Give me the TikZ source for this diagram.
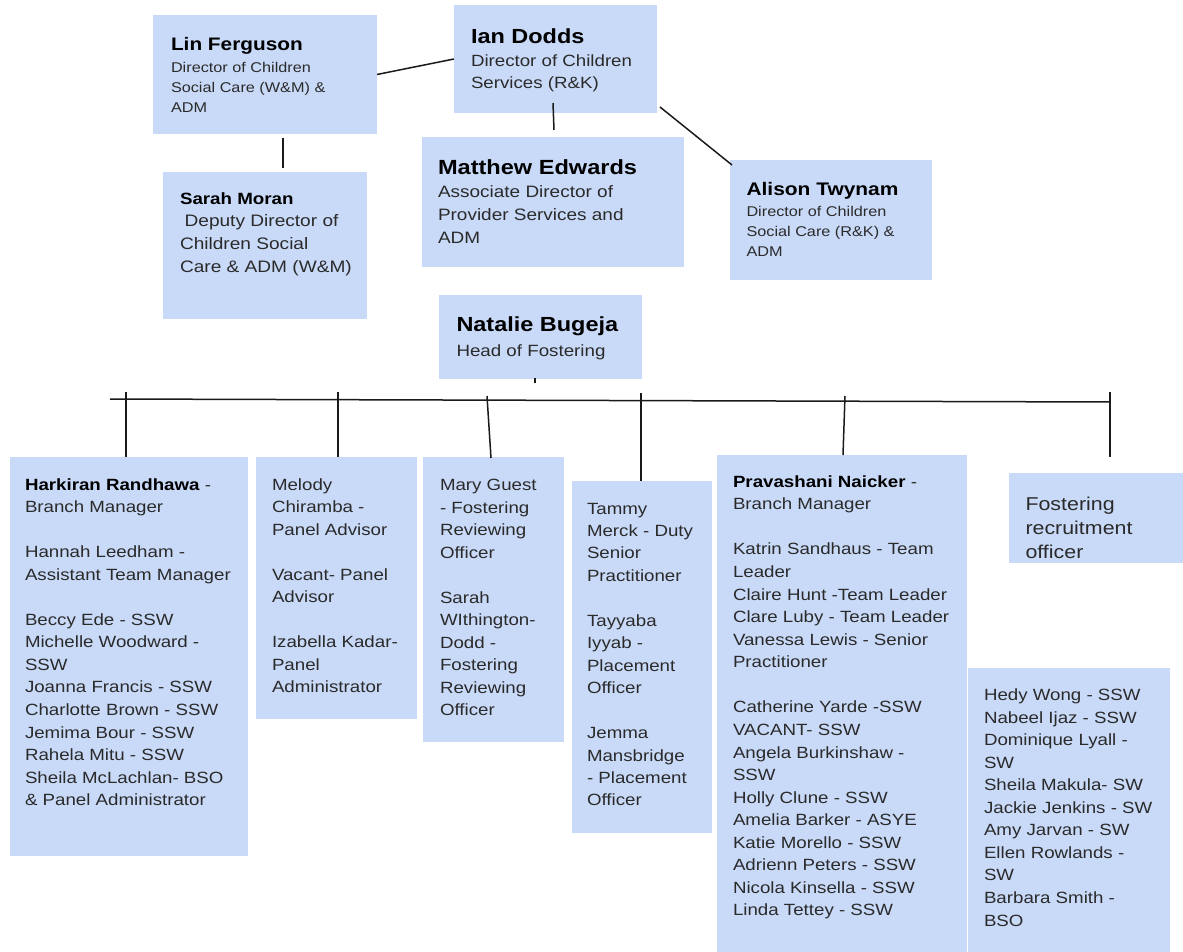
\documentclass[tikz,border=0pt]{standalone}
\usepackage{fontspec}
\setmainfont{Liberation Sans}[FakeStretch=1.15]
\usetikzlibrary{calc}
\definecolor{boxblue}{HTML}{C9DAF8}
\definecolor{bodygray}{HTML}{2A2A2A}
\definecolor{linegray}{HTML}{1A1A1A}
\newcommand\fsz[2]{\fontsize{#1}{#2}\selectfont}
\newcommand\nm[1]{\textcolor{black}{\textbf{#1}}}
\newcommand\nmsz[2]{{\fontsize{#1}{#1}\selectfont\textcolor{black}{\textbf{#2}}}}
\begin{document}
\begin{tikzpicture}[x=1pt,y=-1pt,
  orgbox/.style={fill=boxblue,draw=none,inner sep=0pt,outer sep=0pt,anchor=north west},
  txt/.style={anchor=base west,inner sep=0pt,outer sep=0pt,text=bodygray},
  conn/.style={draw=linegray,line width=1.5pt}]
\useasboundingbox[fill=white] (0,0) rectangle (1183,952);

% ---- boxes
\node[orgbox,minimum width=224pt,minimum height=119pt] (lin) at (153,15) {};
\node[orgbox,minimum width=203pt,minimum height=108pt] (ian) at (454,5) {};
\node[orgbox,minimum width=204pt,minimum height=147pt] (sarah) at (163,172) {};
\node[orgbox,minimum width=262pt,minimum height=130pt] (matt) at (422,137) {};
\node[orgbox,minimum width=202pt,minimum height=120pt] (alison) at (730,160) {};
\node[orgbox,minimum width=203pt,minimum height=84pt] (nat) at (439,295) {};
\node[orgbox,minimum width=238pt,minimum height=399pt] (hark) at (10,457) {};
\node[orgbox,minimum width=161pt,minimum height=262pt] (mel) at (256,457) {};
\node[orgbox,minimum width=141pt,minimum height=285pt] (mary) at (423,457) {};
\node[orgbox,minimum width=140pt,minimum height=352pt] (tam) at (572,481) {};
\node[orgbox,minimum width=250pt,minimum height=497pt] (prav) at (717,455) {};
\node[orgbox,minimum width=174pt,minimum height=90pt] (rec) at (1009,473) {};
\node[orgbox,minimum width=202pt,minimum height=284pt] (hedy) at (968,668) {};

% ---- connector end points
\coordinate (ls1) at (283,138);
\coordinate (ls2) at (283,168);
\coordinate (im1) at (553,103);
\coordinate (im2) at (554,130);
\coordinate (ia1) at (660,107);
\coordinate (ia2) at (732,165);
\coordinate (nt1) at (535,378);
\coordinate (nt2) at (535,382.5);
\coordinate (busL) at (110,399);
\coordinate (busR) at (1110,402);
\coordinate (d1a) at (126,392);  \coordinate (d1b) at (126,457);
\coordinate (d2a) at (338,392);  \coordinate (d2b) at (338,457);
\coordinate (d3a) at (487,396);  \coordinate (d3b) at (491,458);
\coordinate (d4a) at (641,393);  \coordinate (d4b) at (641,481);
\coordinate (d5a) at (845,396);  \coordinate (d5b) at (843,455);
\coordinate (d6a) at (1110,392); \coordinate (d6b) at (1110,457);

% ---- connectors
\draw[conn] (lin.east) -- (ian.west);
\draw[conn] (ls1) -- (ls2);
\draw[conn] (im1) -- (im2);
\draw[conn] (ia1) -- (ia2);
\draw[conn] (nt1) -- (nt2);
\draw[conn] (busL) -- (busR);
\draw[conn] (d1a) -- (d1b);
\draw[conn] (d2a) -- (d2b);
\draw[conn] (d3a) -- (d3b);
\draw[conn] (d4a) -- (d4b);
\draw[conn] (d5a) -- (d5b);
\draw[conn] (d6a) -- (d6b);

% ---- texts, top
\node[txt,font=\fsz{14.13}{19.7}] (lin-t) at (171,50.7) {\begin{tabular}[t]{@{}l@{}}\nmsz{18.1}{Lin Ferguson}\\[2.3pt]
Director of Children\\ Social Care (W\&M) \&\\ ADM\end{tabular}};
\node[txt,font=\fsz{16.26}{22.3}] (ian-t) at (471,43.3) {\begin{tabular}[t]{@{}l@{}}\nmsz{20.4}{Ian Dodds}\\[1.1pt]
Director of Children\\ Services (R\&K)\end{tabular}};
\node[txt,font=\fsz{16.5}{22.7}] (matt-t) at (438,175) {\begin{tabular}[t]{@{}l@{}}\nmsz{20.5}{Matthew Edwards}\\
Associate Director of\\ Provider Services and\\ ADM\end{tabular}};
\node[txt,font=\fsz{14.13}{20}] (alison-t) at (746.5,195.7) {\begin{tabular}[t]{@{}l@{}}\nmsz{18.2}{Alison Twynam}\\[1pt]
Director of Children\\ Social Care (R\&K) \&\\ ADM\end{tabular}};
\node[txt,font=\fsz{16.6}{23}] (sarah-t) at (180,205) {\begin{tabular}[t]{@{}l@{}}\nmsz{16.3}{Sarah Moran}\\[-1.3pt]
\hspace{0.278em}Deputy Director of\\ Children Social\\ Care \& ADM (W\&M)\end{tabular}};
\node[txt,font=\fsz{16.3}{22.5}] (nat-t) at (456.5,331.7) {\begin{tabular}[t]{@{}l@{}}\nmsz{20.4}{Natalie Bugeja}\\[2.5pt]
Head of Fostering\end{tabular}};

% ---- texts, bottom
\node[txt,font=\fsz{16.26}{22.55}] (hark-t) at (25,490) {\begin{tabular}[t]{@{}l@{}}\nm{Harkiran Randhawa} -\\
Branch Manager\\ \\
Hannah Leedham -\\ Assistant Team Manager\\ \\
Beccy Ede - SSW\\ Michelle Woodward -\\ SSW\\ Joanna Francis - SSW\\ Charlotte Brown - SSW\\
Jemima Bour - SSW\\ Rahela Mitu - SSW\\ Sheila McLachlan- BSO\\ \& Panel Administrator\end{tabular}};
\node[txt,font=\fsz{16.26}{22.55}] (mel-t) at (272,490) {\begin{tabular}[t]{@{}l@{}}Melody\\ Chiramba -\\ Panel Advisor\\ \\
Vacant- Panel\\ Advisor\\ \\ Izabella Kadar-\\ Panel\\ Administrator\end{tabular}};
\node[txt,font=\fsz{16.26}{22.5}] (mary-t) at (440,490.7) {\begin{tabular}[t]{@{}l@{}}Mary Guest\\ - Fostering\\ Reviewing\\ Officer\\ \\
Sarah\\ WIthington-\\ Dodd -\\ Fostering\\ Reviewing\\ Officer\end{tabular}};
\node[txt,font=\fsz{16.26}{22.46}] (tam-t) at (587,514) {\begin{tabular}[t]{@{}l@{}}Tammy\\ Merck - Duty\\ Senior\\ Practitioner\\ \\
Tayyaba\\ Iyyab -\\ Placement\\ Officer\\ \\ Jemma\\ Mansbridge\\ - Placement\\ Officer\end{tabular}};
\node[txt,font=\fsz{16.26}{22.56}] (prav-t) at (733,487.3) {\begin{tabular}[t]{@{}l@{}}\nm{Pravashani Naicker} -\\
Branch Manager\\ \\ Katrin Sandhaus - Team\\ Leader\\ Claire Hunt -Team Leader\\ Clare Luby - Team Leader\\
Vanessa Lewis - Senior\\ Practitioner\\ \\ Catherine Yarde -SSW\\ VACANT- SSW\\ Angela Burkinshaw -\\ SSW\\
Holly Clune - SSW\\ Amelia Barker - ASYE\\ Katie Morello - SSW\\ Adrienn Peters - SSW\\ Nicola Kinsella - SSW\\
Linda Tettey - SSW\end{tabular}};
\node[txt,font=\fsz{16.26}{22.53}] (hedy-t) at (984,700.7) {\begin{tabular}[t]{@{}l@{}}Hedy Wong - SSW\\ Nabeel Ijaz - SSW\\
Dominique Lyall -\\ SW\\ Sheila Makula- SW\\ Jackie Jenkins - SW\\ Amy Jarvan - SW\\ Ellen Rowlands -\\ SW\\
Barbara Smith -\\ BSO\end{tabular}};
\node[txt,font=\fsz{18.6}{24}] (rec-t) at (1025.5,510) {\begin{tabular}[t]{@{}l@{}}Fostering\\ recruitment\\ officer\end{tabular}};
\end{tikzpicture}
\end{document}
